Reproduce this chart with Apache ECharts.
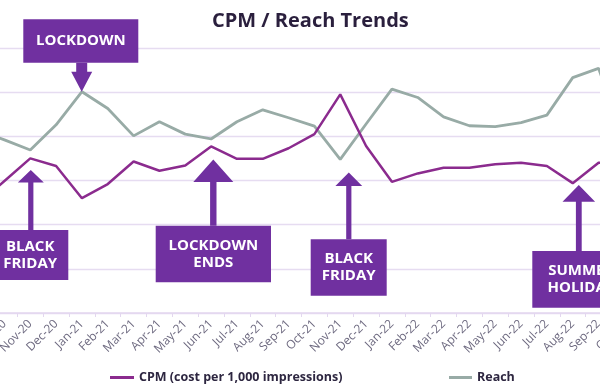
<!DOCTYPE html>
<html>
<head>
<meta charset="utf-8">
<script src="https://cdn.jsdelivr.net/npm/echarts@6/dist/echarts.min.js"></script>
<style>
html,body{margin:0;padding:0;background:#fff;}
#chart{width:600px;height:387px;}
</style>
</head>
<body>
<div id="chart"></div>
<script>
// ---- data ----
const months = ['Sep-20','Oct-20','Nov-20','Dec-20','Jan-21','Feb-21','Mar-21','Apr-21','May-21','Jun-21','Jul-21','Aug-21','Sep-21','Oct-21','Nov-21','Dec-21','Jan-22','Feb-22','Mar-22','Apr-22','May-22','Jun-22','Jul-22','Aug-22','Sep-22','Oct-22'];
const cpm = [24.7,29.9,35.0,33.3,26.0,29.2,34.3,32.2,33.4,37.7,34.9,34.9,37.3,40.5,49.5,37.8,29.7,31.6,32.9,32.9,33.7,34.0,33.3,29.4,34.0,34.6];
const reach = [41.4,39.2,36.9,42.6,50.1,46.3,40.1,43.3,40.5,39.4,43.3,46.0,44.2,42.3,34.8,42.8,50.7,48.8,44.4,42.4,42.2,43.1,44.8,53.3,55.4,39.2];
const seriesNames = ['CPM (cost per 1,000 impressions)','Reach'];
const titleText = 'CPM / Reach Trends';
const notes = [
  {text:'LOCKDOWN', box:[23.3,19.3,115,43.4], arrow:{x:81.7,tip:91.7,head:71.7,base:62.7,sw:5.5,hw:10.5}},
  {text:'BLACK\nFRIDAY', box:[-8,230,76.3,50], arrow:{x:30.8,tip:170,head:182.5,base:230,sw:2.6,hw:13}},
  {text:'LOCKDOWN\nENDS', box:[155.7,225.7,115.3,56.6], arrow:{x:213.3,tip:159.5,head:182,base:225.7,sw:3.2,hw:20}},
  {text:'BLACK\nFRIDAY', box:[310.7,239.3,76,56.4], arrow:{x:348.8,tip:172.5,head:186,base:239.3,sw:2.6,hw:13.4}},
  {text:'SUMMER\nHOLIDAY', box:[532.3,251,98,56.7], arrow:{x:578.8,tip:185,head:201.7,base:251,sw:2.9,hw:16.3}}
];

const PURPLE_BOX = '#7030A0';
const chart = echarts.init(document.getElementById('chart'), null, {renderer:'canvas'});

function arrowPoly(a){
  return [[a.x,a.tip],[a.x+a.hw,a.head],[a.x+a.sw,a.head],[a.x+a.sw,a.base],[a.x-a.sw,a.base],[a.x-a.sw,a.head],[a.x-a.hw,a.head]];
}
const graphics = [];
notes.forEach(n=>{
  graphics.push({type:'polygon', z:100, shape:{points:arrowPoly(n.arrow)}, style:{fill:PURPLE_BOX}});
  graphics.push({type:'rect', z:100, shape:{x:n.box[0],y:n.box[1],width:n.box[2],height:n.box[3]}, style:{fill:PURPLE_BOX}});
  graphics.push({type:'text', z:101, x:n.box[0]+n.box[2]/2, y:n.box[1]+n.box[3]/2,
    style:{text:n.text, fill:'#ffffff', font:'bold 15px "Open Sans"', align:'center', verticalAlign:'middle', lineHeight:17}});
});

const lineColors = ['#8b2b8e','#98aba6'];
chart.setOption({
  animation:false,
  backgroundColor:'#ffffff',
  title:{text:titleText, left:212, top:11, padding:0,
    textStyle:{fontFamily:'Open Sans', fontWeight:'bold', fontSize:20, color:'#2a1f3d'}},
  legend:[
    {data:[seriesNames[0]], left:110, top:371, padding:0, icon:'rect', itemWidth:24, itemHeight:3,
      textStyle:{fontFamily:'Open Sans', fontWeight:'bold', fontSize:12.5, color:'#2d2640'}},
    {data:[seriesNames[1]], left:449, top:371, padding:0, icon:'rect', itemWidth:23, itemHeight:3,
      textStyle:{fontFamily:'Open Sans', fontWeight:'bold', fontSize:12.5, color:'#2d2640'}}
  ],
  grid:{left:-34.3, right:-37.3, top:48, bottom:74, containLabel:false, outerBoundsMode:'none'},
  xAxis:{type:'category', data:months, boundaryGap:true,
    axisLine:{lineStyle:{color:'#e3d7ef', width:1.5}},
    axisTick:{show:true, length:4, lineStyle:{color:'#e3d7ef'}},
    axisLabel:{interval:0, rotate:45, margin:9, fontFamily:'Open Sans', fontSize:12, color:'#6e6a80'}},
  yAxis:{type:'value', min:0, max:60, interval:10,
    axisLabel:{show:false}, axisLine:{show:false}, axisTick:{show:false},
    splitLine:{lineStyle:{color:'#e6dcf1', width:1.3}}},
  series:[
    {name:seriesNames[0], type:'line', data:cpm, symbol:'none', color:lineColors[0], lineStyle:{width:2.5, color:lineColors[0]}, z:3},
    {name:seriesNames[1], type:'line', data:reach, symbol:'none', color:lineColors[1], lineStyle:{width:2.8, color:lineColors[1]}, z:2}
  ],
  graphic:graphics
});
</script>
</body>
</html>
